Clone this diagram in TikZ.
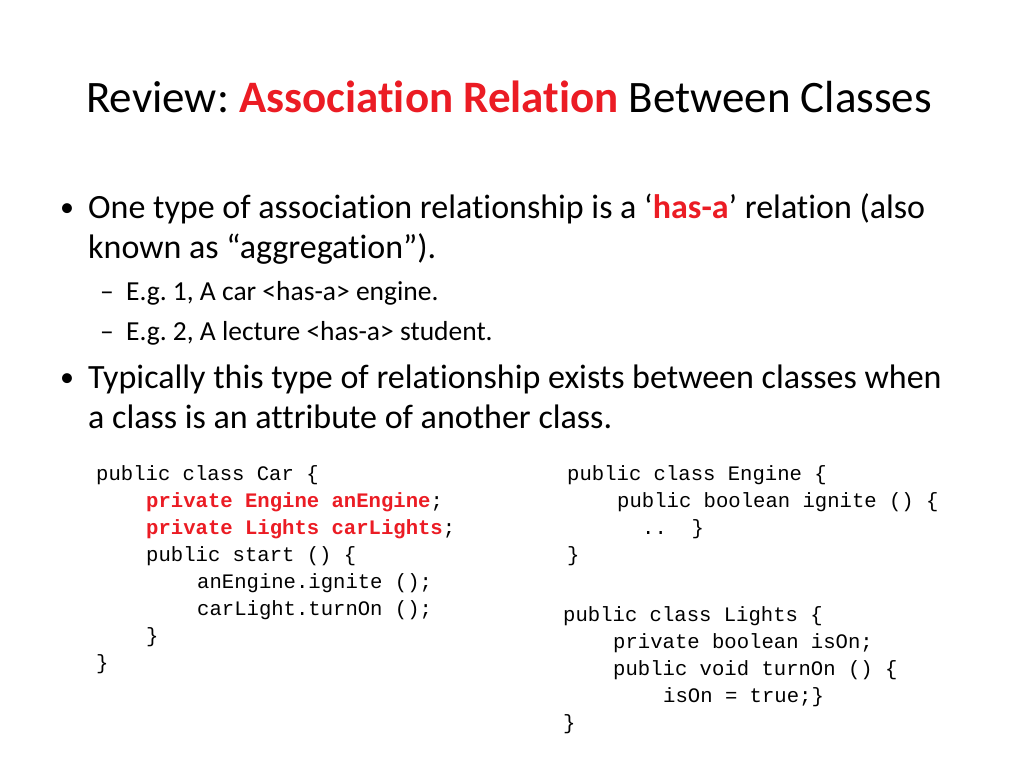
\documentclass[tikz,border=0pt]{standalone}
\usepackage{fontspec}
\setmainfont[Ligatures=NoCommon]{Carlito}
\newfontfamily\codefont{Liberation Mono}
\definecolor{hl}{RGB}{235,28,36}
\frenchspacing
\begin{document}
\begin{tikzpicture}[x=1pt,y=-1pt,
  t/.style={anchor=base west,inner sep=0pt},
  title/.style={t,font=\fontsize{45}{45}\selectfont},
  big/.style={t,font=\fontsize{34}{34}\selectfont},
  small/.style={t,font=\fontsize{27.5}{27.5}\selectfont},
  code/.style={t,font=\codefont\fontsize{20.6}{20.6}\selectfont}]
\useasboundingbox (0,0) rectangle (1024,768);
\node[title] (ti) at (86,112) {Review: \textcolor{hl}{\textbf{Association Relation}} Between Classes};
\node[t,font=\fontsize{28}{28}\selectfont] (b1) at (60,216) {•};
\node[big] (l1) at (88,218) {One type of association relationship is a ‘\textcolor{hl}{\textbf{has-a}}’ relation (also};
\node[big] (l2) at (88,258) {known as “aggregation”).};
\node[small] (m1) at (100,300) {–};
\node[small] (d1) at (126,300) {E.g. 1, A car <has-a> engine.};
\node[small] (m2) at (100,340) {–};
\node[small] (d2) at (126,340) {E.g. 2, A lecture <has-a> student.};
\node[t,font=\fontsize{28}{28}\selectfont] (b2) at (60,386) {•};
\node[big] (l3) at (88,388) {Typically this type of relationship exists between classes when};
\node[big] (l4) at (88,428) {a class is an attribute of another class.};
% left code
\node[code] (c1) at (96,480) {public class Car \{};
\node[code] (c2) at (146,507) {\textcolor{hl}{\textbf{private Engine anEngine}};};
\node[code] (c3) at (146,534) {\textcolor{hl}{\textbf{private Lights carLights}};};
\node[code] (c4) at (146,561) {public start () \{};
\node[code] (c5) at (197,588) {anEngine.ignite ();};
\node[code] (c6) at (197,615) {carLight.turnOn ();};
\node[code] (c7) at (146,642) {\}};
\node[code] (c8) at (96,669) {\}};
% right code
\node[code] (e1) at (567,480) {public class Engine \{};
\node[code] (e2) at (617,507) {public boolean ignite () \{};
\node[code] (e3) at (642,534) {..\ \ \}};
\node[code] (e4) at (567,561) {\}};
\node[code] (g1) at (563,621) {public class Lights \{};
\node[code] (g2) at (613,648) {private boolean isOn;};
\node[code] (g3) at (613,675) {public void turnOn () \{};
\node[code] (g4) at (663,702) {isOn = true;\}};
\node[code] (g5) at (563,729) {\}};
\end{tikzpicture}
\end{document}
